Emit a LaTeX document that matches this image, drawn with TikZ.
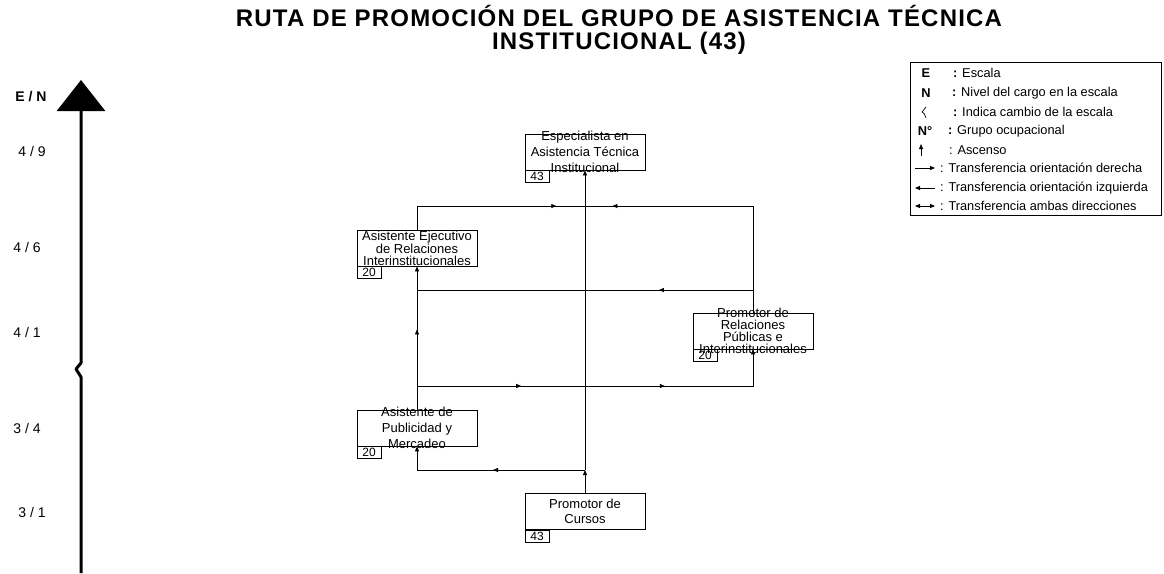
\documentclass[tikz,border=0pt]{standalone}
\usepackage{fontspec}
\setmainfont{Liberation Sans}
\usetikzlibrary{arrows.meta,decorations.markings}

\tikzset{
  >={Triangle[length=5pt,width=4pt]},
  ruta/.style={line width=0.8pt},
  cargo/.style={draw, line width=0.8pt, minimum width=120pt, minimum height=36pt, inner sep=0pt},
  grupo/.style={draw, line width=0.8pt, minimum width=24pt, minimum height=12pt, inner sep=0pt, anchor=north west, font=\fontsize{12}{12}\selectfont},
  texto/.style={align=center, inner sep=0pt, font=\fontsize{13}{16}\selectfont},
  apretado/.style={align=center, inner sep=0pt, font=\fontsize{13}{12}\selectfont},
  flecha/.style={postaction={decorate}, decoration={markings, mark=at position #1 with {\arrow{>}}}},
  nivel/.style={inner sep=0pt, font=\fontsize{14}{14}\selectfont},
  leyenda/.style={anchor=west, inner sep=0pt, font=\fontsize{12.8}{12.8}\selectfont},
  simbolo/.style={inner sep=0pt, font=\fontsize{12.8}{12.8}\selectfont\bfseries},
}

\begin{document}
\begin{tikzpicture}[x=1pt,y=-1pt]
		\useasboundingbox (0,0) rectangle (1164,573);
		%%%%% TITULO %%%%%
		\node[align=center, inner sep=0pt, font=\fontsize{24}{23}\selectfont\bfseries\addfontfeature{LetterSpace=5}] (titulo) at (619,30) {RUTA DE PROMOCIÓN DEL GRUPO DE ASISTENCIA TÉCNICA\\INSTITUCIONAL (43)};
		
		%%%%% ESCALA %%%%%
		\draw[line width=3pt, line join=round, -{Triangle[length=31pt,width=48pt]}] (81,573) -- (81,377) -- (76,369) -- (81,363) -- (81,80);
		\node[nivel, font=\fontsize{14}{14}\selectfont\bfseries] (en) at (31,97) {E / N};
		\node[nivel] (n49) at (32,151) {4 / 9};
		\node[nivel] (n46) at (27,247) {4 / 6};
		\node[nivel] (n41) at (27,332) {4 / 1};
		\node[nivel] (n34) at (27,428) {3 / 4};
		\node[nivel] (n31) at (32,512) {3 / 1};
		
		%%%%% CARGOS %%%%%
		\node[cargo, label={[texto]center:{Especialista en\\Asistencia Técnica\\Institucional}}] (esp) at (585,152) {};
		\node[grupo] (esp-g) at (esp.south west) {43};
		
		\node[cargo, label={[apretado]center:{Asistente Ejecutivo\\de Relaciones\\Interinstitucionales}}] (ejec) at (417,248) {};
		\node[grupo] (ejec-g) at (ejec.south west) {20};
		
		\node[cargo, label={[apretado]center:{Promotor de\\Relaciones\\Públicas e\\Interinstitucionales}}] (rel) at (753,331) {};
		\node[grupo] (rel-g) at (rel.south west) {20};
		
		\node[cargo, label={[texto]center:{Asistente de\\Publicidad y\\Mercadeo}}] (pub) at (417,428) {};
		\node[grupo] (pub-g) at (pub.south west) {20};
		
		\node[cargo, label={[texto, font=\fontsize{13}{15}\selectfont]center:{Promotor de\\Cursos}}] (cur) at (585,511.5) {};
		\node[grupo] (cur-g) at (cur.south west) {43};
		
		%%%%% RUTAS %%%%%
		\coordinate (jc) at (585,470);
		\coordinate (jb) at (585,386);
		\coordinate (jm) at (585,290);
		\coordinate (jt) at (585,206);
		
		\draw[ruta, ->] (cur.north) -- (jc);
		\draw[ruta, ->] (jc) -- (esp.south);
		\draw[ruta, flecha=0.48, ->] (jc) -| (pub.south);
		\draw[ruta, flecha=0.56, ->] (pub.north) -- (ejec.south);
		\draw[ruta, flecha=0.62] (pub.north |- jb) -- (jb);
		\draw[ruta, flecha=0.39, ->] (jb) -| (rel.south);
		\draw[ruta, flecha=0.28] (rel.north |- jm) -- (ejec.south |- jm);
		\draw[ruta, flecha=0.85] (ejec.north) |- (jt);
		\draw[ruta, flecha=0.9] (rel.north) |- (jt);
		
		%%%%% LEYENDA %%%%%
		\draw[line width=0.8pt] (910,62) rectangle (1161,215);
		
		\node[simbolo] (le) at (926,73) {E};
		\node[leyenda] at (953,73) {\textbf{:} Escala};
		\node[simbolo] (ln) at (926,93) {N};
		\node[leyenda] at (952,93) {\textbf{:} Nivel del cargo en la escala};
		\draw[line width=0.7pt] (926,107) -- (922,112) .. controls (924,113) .. (926,118);
		\node[leyenda] at (953,112) {\textbf{:} Indica cambio de la escala};
		\node[simbolo] (lg) at (925,131) {N°};
		\node[leyenda] at (948,131) {\textbf{:} Grupo ocupacional};
		\draw[ruta, ->] (921,156) -- (921,144);
		\node[leyenda] at (949,150) {: Ascenso};
		\draw[ruta, ->] (915,168) -- (935,168);
		\node[leyenda] at (940,168) {: Transferencia orientación derecha};
		\draw[ruta, ->] (935,188) -- (915,188);
		\node[leyenda] at (940,188) {: Transferencia orientación izquierda};
		\draw[ruta, <->] (915,206) -- (935,206);
		\node[leyenda] at (940,206) {: Transferencia ambas direcciones};
		
	\end{tikzpicture}
\end{document}
